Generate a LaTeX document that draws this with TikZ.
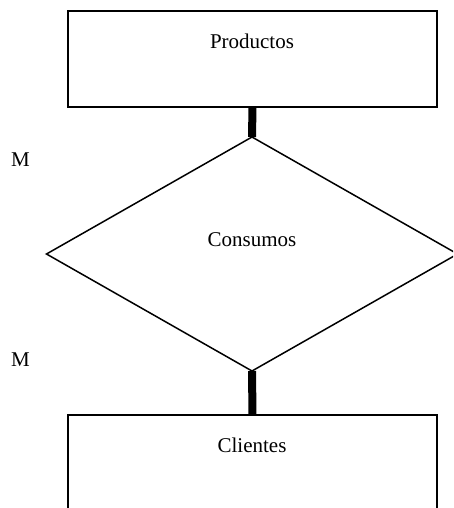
\documentclass[tikz,border=0pt]{standalone}
\usepackage{fontspec}
\setmainfont{Liberation Serif}
\usetikzlibrary{shapes.geometric}
\begin{document}
\begin{tikzpicture}[x=1pt,y=1pt,
  entity/.style={draw, line width=1.8pt, minimum width=369pt, inner sep=0pt, outer sep=0pt},
  relation/.style={draw, diamond, line width=1.5pt, inner sep=0pt, outer sep=0pt, minimum width=411pt, minimum height=234pt},
  lbl/.style={font=\fontsize{21}{24}\selectfont, inner sep=0pt},
  link/.style={line width=8pt}]
\clip (0,0) rectangle (453,-508);
\fill[white] (0,0) rectangle (453,-508);
\node[entity, minimum height=96pt] (prod) at (252.5,-59) {};
\node[entity, minimum height=160pt] (cli) at (252.5,-495) {};
\node[relation] (rel) at (252,-254) {};
\node[lbl] (tprod) at (252,-41) {Productos};
\node[lbl] (trel) at (252,-240) {Consumos};
\node[lbl] (tcli) at (252,-445) {Clientes};
\node[lbl] (m1) at (20.5,-160) {M};
\node[lbl] (m2) at (20.5,-360) {M};
\draw[link] (rel.north) -- (prod.south);
\draw[link] (rel.south) -- (cli.north);
\end{tikzpicture}
\end{document}
